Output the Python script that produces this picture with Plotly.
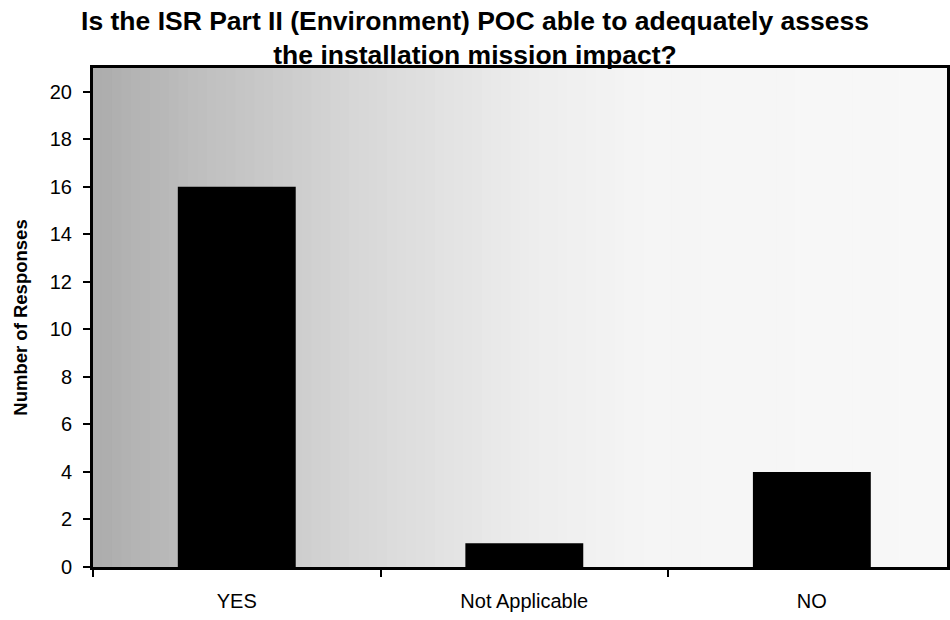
import plotly.graph_objects as go

categories = ["YES", "Not Applicable", "NO"]
responses = [16, 1, 4]
y_ticks = [0, 2, 4, 6, 8, 10, 12, 14, 16, 18, 20]

title_text = "<b>Is the ISR Part II (Environment) POC able to adequately assess<br>the installation mission impact?</b>"
y_title = "<b>Number of Responses</b>"

fig = go.Figure()
fig.add_trace(go.Bar(x=categories, y=responses, marker=dict(color="black", line=dict(width=0)),
                     showlegend=False))

# background gradient (styling only)
n = 90
stops = [(0.0, 172), (0.12, 190), (0.3, 214), (0.5, 236), (0.65, 245), (1.0, 248)]
def gray_at(t):
    for (a, ga), (b, gb) in zip(stops[:-1], stops[1:]):
        if a <= t <= b:
            return ga + (gb - ga) * (t - a) / (b - a)
    return stops[-1][1]
shapes = []
for i in range(n):
    t0, t1 = i / n, (i + 1) / n
    g = int(round(gray_at((t0 + t1) / 2)))
    shapes.append(dict(type="rect", xref="x domain", yref="y domain", x0=t0, x1=t1 + 0.002,
                       y0=0, y1=1, fillcolor=f"rgb({g},{g},{g})", line=dict(width=0), layer="below"))

fig.update_layout(
    width=950, height=620,
    margin=dict(l=93, r=0, t=68, b=53),
    paper_bgcolor="white", plot_bgcolor="white",
    bargap=0.59,
    shapes=shapes,
    font=dict(family="Liberation Sans, Arial, sans-serif", color="black"),
    title=dict(text=title_text, x=0.5, xanchor="center", y=0.952, yanchor="top",
               font=dict(family="Liberation Sans, Arial", size=26.5, color="black")),
    xaxis=dict(type="category", range=[-0.5, 2.47], showline=True, linewidth=3, linecolor="black",
               mirror=True, tickson="boundaries", ticks="outside", ticklen=7, tickwidth=2, tickcolor="black",
               tickfont=dict(size=20), showgrid=False, ticklabelstandoff=14),
    xaxis2=dict(overlaying="x", range=[-0.5, 2.47], tickvals=[0.5, 1.5], ticks="inside", ticklen=7,
                tickwidth=2, tickcolor="black", showticklabels=False, showgrid=False, zeroline=False,
                showline=False),
    yaxis=dict(range=[0, 21], tickvals=y_ticks, showline=True, linewidth=3, linecolor="black",
               mirror=True, ticks="outside", ticklen=7, tickwidth=2, tickcolor="black",
               tickfont=dict(size=20), showgrid=False, zeroline=False, ticklabelstandoff=7,
               title=dict(text=y_title, font=dict(size=18.5), standoff=18)),
    yaxis2=dict(overlaying="y", range=[0, 21], tickvals=y_ticks, ticks="inside", ticklen=7, tickwidth=2,
                tickcolor="black", showticklabels=False, showgrid=False, zeroline=False, showline=False),
)

fig.write_html("out.html", config={"displayModeBar": False},
               post_script="document.body.style.margin='0';")
